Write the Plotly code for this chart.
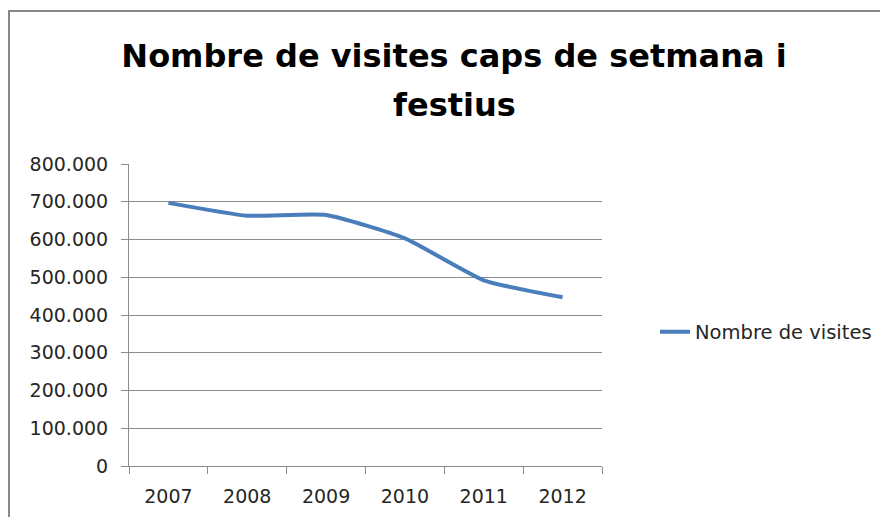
import plotly.graph_objects as go

years = ["2007", "2008", "2009", "2010", "2011", "2012"]
visites = [697000, 663000, 665000, 603000, 492000, 447000]
series_name = "Nombre de visites"
title_line1 = "Nombre de visites caps de setmana i"
title_line2 = "festius"
y_ticks = [0, 100000, 200000, 300000, 400000, 500000, 600000, 700000, 800000]

# page body has an 8px margin: work in figure coordinates = screen - 8
OFF = 8
W, H = 888 - OFF, 517 - OFF
L, R, T, B = 129 - OFF, 602 - OFF, 164 - OFF, 466 - OFF
pw, ph = R - L, B - T

def px_x(x):
    return (x - L) / pw

def px_y(y):
    return (B - y) / ph

FONT = "DejaVu Sans"
fig = go.Figure()
fig.add_trace(go.Scatter(
    x=years, y=visites, mode="lines", name=series_name,
    line=dict(color="#4A7EBB", width=4, shape="spline", smoothing=0.5),
))

grey = "#8c8c8c"
tickfont = dict(family=FONT, size=19, color="#262626")
fig.update_layout(
    width=W, height=H,
    margin=dict(l=L, r=W - R, t=T, b=H - B, pad=0, autoexpand=False),
    paper_bgcolor="white", plot_bgcolor="white",
    separators=",.",
    font=dict(family=FONT, size=19, color="#262626"),
    title=dict(text=title_line1, x=446 / W, xanchor="center", y=1 - 48 / H, yanchor="middle",
               font=dict(family=FONT, size=32, color="black", weight="bold")),
    showlegend=True,
    legend=dict(x=px_x(647), xanchor="left", y=px_y(324), yanchor="middle",
                font=dict(family=FONT, size=19.5, color="#262626"),
                bgcolor="rgba(0,0,0,0)", borderwidth=0),
    xaxis=dict(type="category", categoryorder="array", categoryarray=years,
               range=[-0.5, len(years) - 0.5], automargin=False,
               showline=True, linecolor=grey, linewidth=1,
               ticks="outside", tickson="boundaries", ticklen=7, tickcolor=grey,
               showgrid=False, zeroline=False, ticklabelstandoff=13,
               tickfont=tickfont),
    yaxis=dict(range=[0, 800000], tickvals=y_ticks, tickformat=",d", automargin=False,
               showline=True, linecolor=grey, linewidth=1,
               ticks="outside", ticklen=7, tickcolor=grey,
               showgrid=True, gridcolor=grey, gridwidth=1, zeroline=False,
               ticklabelstandoff=9,
               tickfont=tickfont),
)

fig.add_annotation(text=title_line2, xref="paper", yref="paper",
                   x=px_x(446), xanchor="center", y=px_y(97), yanchor="middle",
                   showarrow=False, font=dict(family=FONT, size=32, color="black", weight="bold"))

# chart frame: left and top edges
frame = dict(color="#888888", width=2)
fig.add_shape(type="line", xref="paper", yref="paper",
              x0=px_x(1), x1=px_x(1), y0=px_y(H + 20), y1=px_y(3), line=frame, layer="below")
fig.add_shape(type="line", xref="paper", yref="paper",
              x0=px_x(0), x1=px_x(W + 20), y0=px_y(3), y1=px_y(3), line=frame, layer="below")

fig.write_html("out.html")
